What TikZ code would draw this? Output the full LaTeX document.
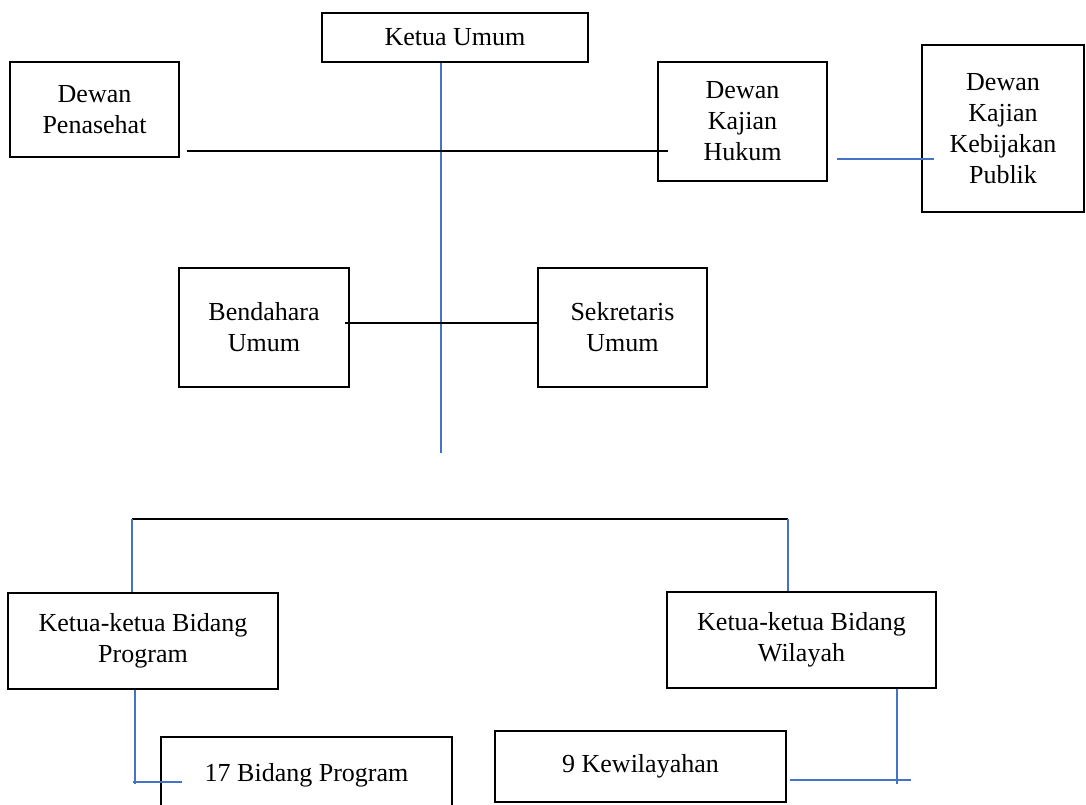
\documentclass[tikz,border=0pt]{standalone}
\usepackage{fontspec}
\setmainfont{Liberation Serif}
\begin{document}
\begin{tikzpicture}[x=1pt,y=-1pt,
  box/.style={draw=black,line width=2.4pt,inner sep=0pt,align=center,
    font=\fontsize{26}{31}\selectfont},
  bline/.style={draw=black,line width=1.3pt},
  uline/.style={draw={rgb,255:red,68;green,114;blue,196},line width=1.3pt}]
\useasboundingbox (0,0) rectangle (1086,805);
\fill[white] (0,0) rectangle (1086,805);
% boxes
\node[box,minimum width=266pt,minimum height=49pt] (ketua) at (455,37.5) {Ketua Umum};
\node[box,minimum width=169pt,minimum height=95pt] (penasehat) at (94.5,109.5) {Dewan\\Penasehat};
\node[box,minimum width=169pt,minimum height=119pt] (hukum) at (742.5,121.5) {Dewan\\Kajian\\Hukum};
\node[box,minimum width=162pt,minimum height=167pt] (publik) at (1003,128.5) {Dewan\\Kajian\\Kebijakan\\Publik};
\node[box,minimum width=170pt,minimum height=119pt] (bendahara) at (264,327.5) {Bendahara\\Umum};
\node[box,minimum width=169pt,minimum height=119pt] (sekretaris) at (622.5,327.5) {Sekretaris\\Umum};
\node[box,minimum width=270pt,minimum height=96pt] (kbprog) at (143,641) {Ketua-ketua Bidang\\Program};
\node[box,minimum width=269pt,minimum height=96pt] (kbwil) at (801.5,640) {Ketua-ketua Bidang\\Wilayah};
\node[box,minimum width=291pt,minimum height=76pt] (bid) at (306.5,775) {17 Bidang Program};
\node[box,minimum width=291pt,minimum height=71pt] (kewil) at (640.5,766.5) {9 Kewilayahan};
% free-end coordinates
\coordinate (vbot) at (441,453);
\coordinate (hl1) at (187,151);
\coordinate (hl2) at (668,151);
\coordinate (ul1) at (837,159);
\coordinate (ul2) at (934,159);
\coordinate (bm1) at (345,323);
\coordinate (bmid) at (441,323);
\coordinate (tl) at (132,519);
\coordinate (tr) at (788,519);
\coordinate (pl) at (135,784);
\coordinate (ph1) at (133,782);
\coordinate (ph2) at (182,782);
\coordinate (wl) at (897,784);
\coordinate (wh1) at (790,780);
\coordinate (wh2) at (911,780);
% connectors
\draw[uline] (ketua.south -| vbot) -- (vbot);
\draw[bline] (hl1) -- (hl2);
\draw[uline] (ul1) -- (ul2);
\draw[bline] (bm1) -- (bmid) -- (sekretaris.west |- bmid);
\draw[bline] (tl) -- (tr);
\draw[uline] (tl) -- (kbprog.north -| tl);
\draw[uline] (tr) -- (kbwil.north -| tr);
\draw[uline] (kbprog.south -| pl) -- (pl);
\draw[uline] (ph1) -- (ph2);
\draw[uline] (kbwil.south -| wl) -- (wl);
\draw[uline] (wh1) -- (wh2);
\end{tikzpicture}
\end{document}
